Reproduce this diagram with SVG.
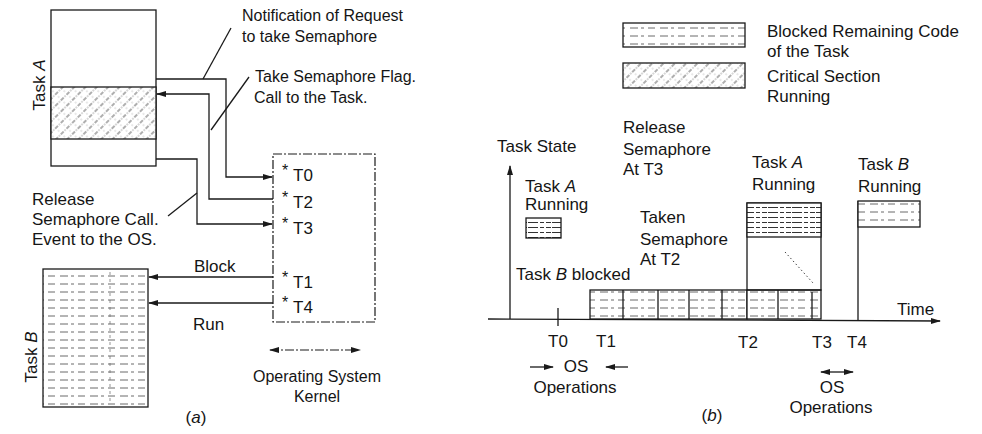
<svg xmlns="http://www.w3.org/2000/svg" width="982" height="434" viewBox="0 0 982 434">
<style>
.t{font-family:"Liberation Sans",Arial,Helvetica,sans-serif;font-size:16px;fill:#151515}
.s{font-size:17px}
.m{text-anchor:middle}
.ln{fill:none;stroke:#1a1a1a;stroke-width:1.3}
.dd{fill:none;stroke:#1a1a1a;stroke-width:1.2;stroke-dasharray:9 2 2 2}
.box{stroke:#1a1a1a;stroke-width:1.3}
</style>
<defs>
<marker id="ah" markerWidth="10" markerHeight="8" refX="9" refY="4" orient="auto" markerUnits="userSpaceOnUse">
<path d="M0,1 L10,4 L0,7 Z" fill="#1a1a1a"/>
</marker>
<marker id="ahs" markerWidth="10" markerHeight="8" refX="1" refY="4" orient="auto" markerUnits="userSpaceOnUse">
<path d="M10,1 L0,4 L10,7 Z" fill="#1a1a1a"/>
</marker>
<pattern id="hatch" patternUnits="userSpaceOnUse" width="8" height="8" patternTransform="rotate(45)">
<rect width="8" height="8" fill="#fff"/>
<line x1="2" y1="0" x2="2" y2="8" stroke="#333" stroke-width="0.8" stroke-dasharray="4 1.5 1 1.5"/>
<circle cx="6" cy="3" r="0.45" fill="#444"/>
</pattern>
<pattern id="blk" patternUnits="userSpaceOnUse" width="30" height="8">
<rect width="30" height="8" fill="#fff"/>
<line x1="0" y1="4" x2="30" y2="4" stroke="#444" stroke-width="0.8" stroke-dasharray="8 3 3 4 7 5"/>
</pattern>
<pattern id="blk2" patternUnits="userSpaceOnUse" width="24" height="5">
<rect width="24" height="5" fill="#fff"/>
<line x1="0" y1="2.5" x2="24" y2="2.5" stroke="#333" stroke-width="1" stroke-dasharray="10 2 4 2 5 1"/>
</pattern>
</defs>

<!-- ===== Part (a) ===== -->
<g id="taskA">
<rect x="51" y="10" width="105" height="156" fill="#fff" class="box"/>
<rect x="51" y="87" width="105" height="52" fill="url(#hatch)" class="box"/>
<text class="t s m" transform="translate(45,85) rotate(-90)">Task <tspan font-style="italic">A</tspan></text>
</g>

<g id="taskB">
<rect x="43" y="269" width="105" height="138" fill="url(#blk)" class="box"/>
<line x1="110" y1="272" x2="110" y2="405" stroke="#666" stroke-width="0.7" stroke-dasharray="3 4"/>
<text class="t s m" transform="translate(37,357) rotate(-90)">Task <tspan font-style="italic">B</tspan></text>
</g>

<g id="kernel">
<rect x="273" y="154" width="102" height="168" class="dd"/>
<text class="t" x="282" y="176" font-size="9">*</text>
<text class="t s" x="293" y="181">T0</text>
<text class="t" x="282" y="203" font-size="9">*</text>
<text class="t s" x="293" y="208">T2</text>
<text class="t" x="282" y="229" font-size="9">*</text>
<text class="t s" x="293" y="234">T3</text>
<text class="t" x="282" y="283" font-size="9">*</text>
<text class="t s" x="293" y="288">T1</text>
<text class="t" x="282" y="308" font-size="9">*</text>
<text class="t s" x="293" y="313">T4</text>
</g>

<g id="kernel-label">
<line x1="270" y1="350" x2="360" y2="350" class="dd" marker-start="url(#ahs)" marker-end="url(#ah)"/>
<text class="t m" x="317" y="382">Operating System</text>
<text class="t m" x="317" y="402">Kernel</text>
</g>

<g id="labels-a">
<text class="t" x="242" y="21">Notification of Request</text>
<text class="t" x="242" y="42">to take Semaphore</text>
<text class="t" x="255" y="82" font-size="15">Take Semaphore Flag.</text>
<text class="t" x="254" y="103" font-size="15.5">Call to the Task.</text>
<text class="t s" x="32" y="205">Release</text>
<text class="t s" x="32" y="225">Semaphore Call.</text>
<text class="t s" x="32" y="245">Event to the OS.</text>
<text class="t s" x="194" y="272">Block</text>
<text class="t s" x="193" y="330">Run</text>
<text class="t s" x="196" y="423" text-anchor="middle">(<tspan font-style="italic">a</tspan>)</text>
</g>

<g id="connectors">
<path d="M156,79 H226 V177 H272" class="ln" marker-end="url(#ah)"/>
<path d="M273,199 H209 V94 H157" class="ln" marker-end="url(#ah)"/>
<path d="M156,159 H197 V224 H272" class="ln" marker-end="url(#ah)"/>
<path d="M273,277 H149" class="ln" marker-end="url(#ah)"/>
<path d="M273,303 H149" class="ln" marker-end="url(#ah)"/>
<line x1="203" y1="79" x2="231" y2="28" class="ln" stroke-width="1"/>
<line x1="211" y1="130" x2="249" y2="77" class="ln" stroke-width="1"/>
<line x1="168" y1="216" x2="197" y2="193" class="ln" stroke-width="1"/>
</g>

<!-- ===== Part (b) ===== -->
<g id="legend">
<rect x="623" y="23" width="122" height="24" fill="url(#blk)" class="box"/>
<rect x="623" y="63" width="122" height="25" fill="url(#hatch)" class="box"/>
<text class="t s" x="767" y="37">Blocked Remaining Code</text>
<text class="t s" x="767" y="57">of the Task</text>
<text class="t s" x="767" y="82">Critical Section</text>
<text class="t s" x="767" y="102">Running</text>
</g>

<g id="axes">
<line x1="510" y1="319" x2="510" y2="166" class="ln" marker-end="url(#ah)"/>
<line x1="488" y1="319" x2="940" y2="321" class="ln" marker-end="url(#ah)"/>
<line x1="558" y1="308" x2="558" y2="326" class="ln"/>
<text class="t s" x="497" y="152">Task State</text>
<text class="t s" x="897" y="315">Time</text>
<text class="t s m" x="558" y="347">T0</text>
<text class="t s m" x="606" y="347">T1</text>
<text class="t s m" x="748" y="348">T2</text>
<text class="t s m" x="822" y="348">T3</text>
<text class="t s m" x="857" y="348">T4</text>
</g>

<g id="taskA-b">
<rect x="526" y="218" width="35" height="20" fill="url(#blk2)" class="box"/>
<text class="t s" x="525" y="192">Task <tspan font-style="italic">A</tspan></text>
<text class="t s" x="525" y="210">Running</text>
</g>

<g id="taskB-blocked">
<rect x="590" y="290" width="157" height="29" fill="url(#blk)" class="box"/>
<rect x="747" y="290" width="74" height="29" fill="url(#blk)" class="box"/>
<line x1="623" y1="290" x2="623" y2="319" class="ln"/>
<line x1="658" y1="290" x2="658" y2="319" class="ln"/>
<line x1="689" y1="290" x2="689" y2="319" class="ln"/>
<line x1="722" y1="290" x2="722" y2="319" class="ln"/>
<line x1="778" y1="290" x2="778" y2="319" class="ln"/>
<line x1="812" y1="292" x2="812" y2="319" class="ln"/>
<text class="t s" x="516" y="280">Task <tspan font-style="italic">B</tspan> blocked</text>
</g>

<g id="taskA-running">
<rect x="747" y="203" width="74" height="87" fill="none" class="box"/>
<rect x="747" y="203" width="74" height="34" fill="url(#blk2)" class="box"/>
<line x1="785" y1="252" x2="813" y2="283" stroke="#444" stroke-width="1" stroke-dasharray="1.5 2.5"/>
<text class="t s" x="752" y="168">Task <tspan font-style="italic">A</tspan></text>
<text class="t s" x="752" y="190">Running</text>
</g>

<g id="taskB-running">
<line x1="858" y1="201" x2="858" y2="321" class="ln"/>
<rect x="858" y="201" width="62" height="26" fill="url(#blk)" class="box"/>
<text class="t s" x="858" y="170">Task <tspan font-style="italic">B</tspan></text>
<text class="t s" x="858" y="192">Running</text>
</g>

<g id="notes-b">
<text class="t s" x="623" y="133">Release</text>
<text class="t s" x="623" y="155">Semaphore</text>
<text class="t s" x="623" y="175">At T3</text>
<text class="t s" x="640" y="223">Taken</text>
<text class="t s" x="640" y="245">Semaphore</text>
<text class="t s" x="640" y="265">At T2</text>
</g>

<g id="os-ops">
<line x1="530" y1="367" x2="553" y2="367" class="ln" marker-end="url(#ah)"/>
<line x1="628" y1="367" x2="606" y2="367" class="ln" marker-end="url(#ah)"/>
<text class="t s m" x="576" y="372">OS</text>
<text class="t s m" x="575" y="393">Operations</text>
<line x1="821" y1="372" x2="853" y2="372" class="ln" marker-start="url(#ahs)" marker-end="url(#ah)"/>
<text class="t s m" x="832" y="393">OS</text>
<text class="t s m" x="831" y="413">Operations</text>
<text class="t s m" x="712" y="421">(<tspan font-style="italic">b</tspan>)</text>
</g>
</svg>
